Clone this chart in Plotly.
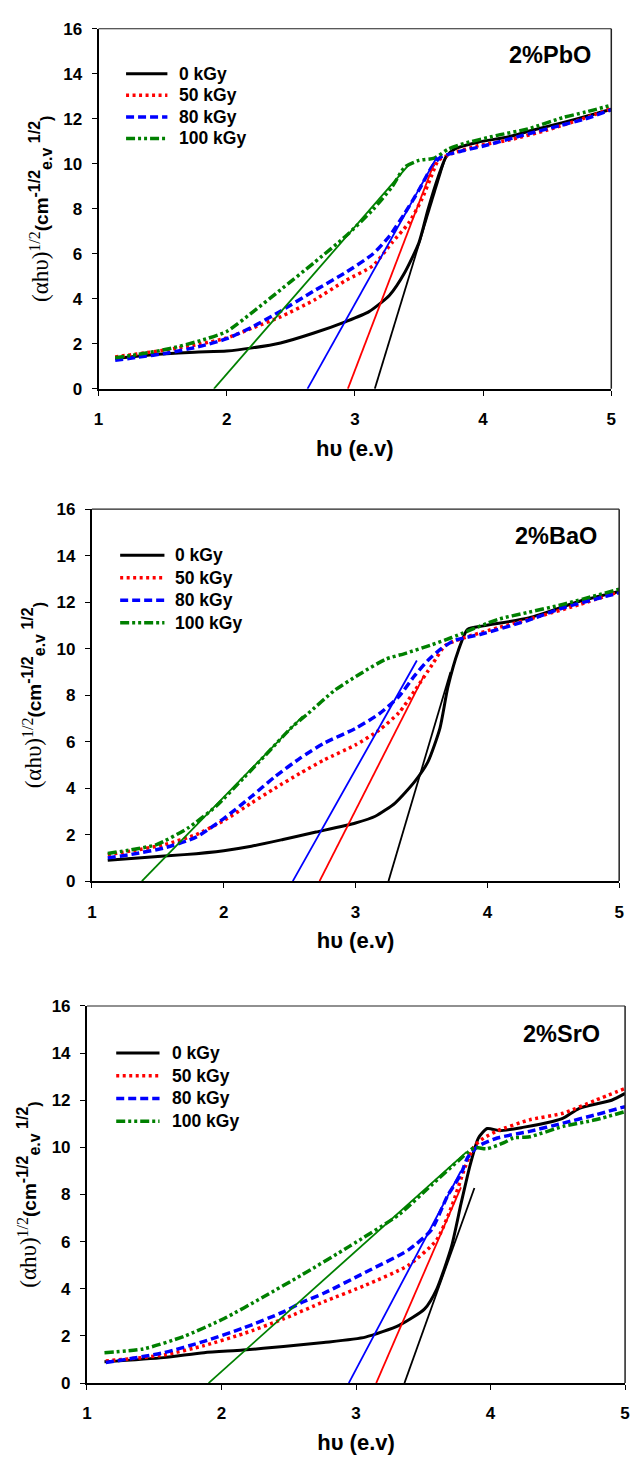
import plotly.graph_objects as go

W, H = 635, 1475

doses = ["0 kGy", "50 kGy", "80 kGy", "100 kGy"]
panel_labels = ["2%PbO", "2%BaO", "2%SrO"]
x_ticks = [1, 2, 3, 4, 5]
y_ticks = [0, 2, 4, 6, 8, 10, 12, 14, 16]

# ---------- 2% PbO ----------
pbo_0_x = [1.13, 1.3, 1.5, 1.75, 2.0, 2.2, 2.42, 2.68, 2.93, 3.11, 3.27, 3.39, 3.5, 3.57, 3.65, 3.71, 3.78, 3.96, 4.2, 4.37, 4.62, 4.8, 5.0]
pbo_0_y = [1.35, 1.45, 1.55, 1.63, 1.68, 1.82, 2.04, 2.48, 2.99, 3.43, 4.16, 5.18, 6.5, 7.96, 9.42, 10.3, 10.66, 10.96, 11.2, 11.47, 11.83, 12.1, 12.42]
pbo_50_x = [1.13, 1.3, 1.55, 1.8, 2.0, 2.2, 2.42, 2.68, 2.93, 3.14, 3.29, 3.42, 3.52, 3.6, 3.65, 3.75, 3.96, 4.2, 4.5, 4.75, 5.0]
pbo_50_y = [1.42, 1.55, 1.75, 2.0, 2.26, 2.7, 3.2, 3.94, 4.82, 5.47, 6.5, 7.37, 8.4, 9.5, 10.15, 10.44, 10.8, 11.05, 11.5, 11.95, 12.45]
pbo_80_x = [1.13, 1.3, 1.55, 1.8, 2.0, 2.2, 2.42, 2.68, 2.93, 3.14, 3.27, 3.39, 3.5, 3.6, 3.67, 3.85, 4.01, 4.3, 4.6, 4.8, 5.0]
pbo_80_y = [1.27, 1.4, 1.6, 1.9, 2.23, 2.75, 3.45, 4.35, 5.18, 5.99, 6.79, 7.81, 8.84, 9.86, 10.3, 10.59, 10.8, 11.25, 11.7, 12.0, 12.4]
pbo_100_x = [1.13, 1.3, 1.55, 1.8, 2.0, 2.2, 2.42, 2.68, 2.93, 3.14, 3.29, 3.39, 3.5, 3.62, 3.73, 3.85, 4.1, 4.35, 4.62, 4.8, 5.0]
pbo_100_y = [1.38, 1.52, 1.78, 2.15, 2.55, 3.4, 4.4, 5.6, 6.79, 7.96, 8.98, 9.86, 10.15, 10.25, 10.66, 10.9, 11.25, 11.55, 12.05, 12.3, 12.6]
pbo_fit_x = [[3.155, 3.71], [2.945, 3.62], [2.63, 3.64], [1.9, 3.42]]
pbo_fit_y = [[0, 10.35], [0, 10.05], [0, 10.3], [0, 9.95]]

# ---------- 2% BaO ----------
bao_0_x = [1.12, 1.4, 1.7, 2.0, 2.21, 2.45, 2.7, 3.0, 3.15, 3.3, 3.45, 3.55, 3.64, 3.7, 3.78, 3.85, 3.97, 4.32, 4.7, 5.0]
bao_0_y = [0.9, 1.02, 1.14, 1.31, 1.5, 1.79, 2.11, 2.5, 2.79, 3.36, 4.29, 5.14, 6.57, 8.33, 9.92, 10.83, 10.98, 11.33, 12.04, 12.46]
bao_50_x = [1.12, 1.3, 1.55, 1.79, 2.0, 2.21, 2.39, 2.58, 2.76, 3.0, 3.18, 3.33, 3.45, 3.58, 3.68, 3.83, 4.08, 4.4, 4.7, 5.0]
bao_50_y = [1.14, 1.3, 1.57, 2.0, 2.6, 3.36, 4.0, 4.64, 5.21, 5.86, 6.5, 7.25, 8.2, 9.3, 10.13, 10.48, 10.9, 11.4, 11.9, 12.45]
bao_80_x = [1.12, 1.3, 1.55, 1.79, 2.0, 2.21, 2.39, 2.58, 2.76, 3.0, 3.18, 3.33, 3.45, 3.55, 3.65, 3.75, 3.95, 4.3, 4.57, 5.0]
bao_80_y = [1.0, 1.15, 1.43, 1.89, 2.69, 3.64, 4.5, 5.29, 5.93, 6.57, 7.2, 7.95, 8.85, 9.5, 10.0, 10.35, 10.62, 11.2, 11.75, 12.4]
bao_100_x = [1.12, 1.3, 1.49, 1.73, 1.94, 2.15, 2.33, 2.52, 2.64, 2.84, 3.03, 3.23, 3.38, 3.58, 3.73, 4.08, 4.3, 4.57, 5.0]
bao_100_y = [1.19, 1.35, 1.57, 2.29, 3.21, 4.43, 5.5, 6.64, 7.21, 8.2, 8.9, 9.55, 9.8, 10.17, 10.48, 11.26, 11.55, 11.9, 12.56]
bao_fit_x = [[3.25, 3.72], [2.727, 3.52], [2.524, 3.465], [1.379, 2.6]]
bao_fit_y = [[0, 9.0], [0, 8.85], [0, 9.49], [0, 7.1]]

# ---------- 2% SrO ----------
sro_0_x = [1.13, 1.57, 1.87, 2.16, 2.46, 2.76, 3.07, 3.32, 3.51, 3.6, 3.71, 3.78, 3.85, 3.91, 3.975, 4.07, 4.24, 4.46, 4.54, 4.66, 4.9, 5.0]
sro_0_y = [0.9, 1.08, 1.29, 1.4, 1.55, 1.72, 1.95, 2.45, 3.15, 3.99, 5.8, 7.6, 9.29, 10.4, 10.8, 10.71, 10.85, 11.1, 11.24, 11.66, 12.0, 12.29]
sro_50_x = [1.14, 1.57, 1.87, 2.16, 2.46, 2.76, 3.07, 3.39, 3.6, 3.71, 3.81, 3.88, 3.95, 4.05, 4.29, 4.54, 4.78, 5.0]
sro_50_y = [0.94, 1.19, 1.59, 2.09, 2.72, 3.45, 4.15, 5.0, 6.08, 7.48, 9.15, 10.06, 10.4, 10.7, 11.17, 11.45, 12.0, 12.5]
sro_80_x = [1.14, 1.57, 1.87, 2.16, 2.46, 2.6, 2.76, 3.07, 3.39, 3.56, 3.68, 3.78, 3.83, 3.91, 4.05, 4.29, 4.54, 4.78, 5.0]
sro_80_y = [0.87, 1.29, 1.77, 2.33, 3.02, 3.43, 3.81, 4.7, 5.65, 6.5, 7.94, 8.87, 9.57, 10.06, 10.4, 10.68, 11.03, 11.38, 11.73]
sro_100_x = [1.13, 1.42, 1.72, 2.02, 2.31, 2.6, 2.95, 3.32, 3.56, 3.76, 3.88, 3.97, 4.1, 4.17, 4.29, 4.54, 4.78, 5.0]
sro_100_y = [1.29, 1.45, 1.98, 2.74, 3.65, 4.6, 5.8, 7.15, 8.4, 9.43, 9.99, 9.94, 10.2, 10.4, 10.45, 10.89, 11.17, 11.52]
sro_fit_x = [[3.36, 3.88], [3.15, 3.78], [2.946, 3.78], [1.904, 3.82]]
sro_fit_y = [[0, 8.28], [0, 8.3], [0, 9.0], [0, 9.8]]

panels = [
    dict(curves=[(pbo_0_x, pbo_0_y), (pbo_50_x, pbo_50_y), (pbo_80_x, pbo_80_y), (pbo_100_x, pbo_100_y)],
         fits=(pbo_fit_x, pbo_fit_y)),
    dict(curves=[(bao_0_x, bao_0_y), (bao_50_x, bao_50_y), (bao_80_x, bao_80_y), (bao_100_x, bao_100_y)],
         fits=(bao_fit_x, bao_fit_y)),
    dict(curves=[(sro_0_x, sro_0_y), (sro_50_x, sro_50_y), (sro_80_x, sro_80_y), (sro_100_x, sro_100_y)],
         fits=(sro_fit_x, sro_fit_y)),
]

# ---------- styling / layout (pixel geometry) ----------
colors = ["#000000", "#ff0000", "#0000ff", "#008000"]
dashes = ["solid", "3px,3.5px", "8px,4px", "9px,3px,3px,3px,3px,3px"]
widths = [3, 3.5, 3.5, 3.5]

# plot boxes in pixels: (left, right, top, bottom)
boxes = [(95, 616, 20, 384.8), (88.3, 624, 506.7, 883.5), (83.3, 630, 1010, 1392)]
legend_geo = [  # sample x0, x1, text x, first row y, row step
    (123, 165, 175, 65.7, 21.8),
    (117, 162, 171, 553.3, 22.8),
    (113, 157, 168, 1057.7, 23.0),
]
label_geo = [(597, 46.7), (604, 534), (607, 1038)]

FONT = "Liberation Sans, Arial, sans-serif"
SERIF = "Liberation Serif, Times New Roman, serif"
ytitle = (f"<span style='font-family:{SERIF};font-weight:normal;font-size:23px'>(αhυ)</span>"
          f"<sup><span style='font-family:{SERIF};font-weight:normal;font-size:16px'>1/2</span></sup>"
          "(cm<sup><span style='font-size:16px'>-1/2</span></sup>"
          "<sub><span style='font-size:16px'>e.v</span></sub>"
          "<sup><span style='font-size:16px'> 1/2</span></sup>"
          "<sub><span style='font-size:16px'>)</span></sub>")

def px(x):
    return x / W

def py(y):
    return 1 - y / H

fig = go.Figure()
shapes = []
annotations = []
layout_axes = {}

for i, p in enumerate(panels):
    n = "" if i == 0 else str(i + 1)
    xa, ya = "x" + n, "y" + n
    # data curves
    for k, (cx, cy) in enumerate(p["curves"]):
        fig.add_trace(go.Scatter(
            x=cx, y=cy, mode="lines", name=doses[k], showlegend=False,
            line=dict(color=colors[k], width=widths[k], dash=dashes[k], shape="spline", smoothing=0.6),
            xaxis=xa, yaxis=ya))
    # linear fits
    fx, fy = p["fits"]
    for k in range(4):
        fig.add_trace(go.Scatter(
            x=fx[k], y=fy[k], mode="lines", showlegend=False,
            line=dict(color=colors[k], width=1.8), xaxis=xa, yaxis=ya))

    l, r, t, b = boxes[i]
    common = dict(showgrid=False, zeroline=False, showline=True, linecolor="black", linewidth=2,
                  ticks="outside", ticklen=5, tickwidth=1.2, tickcolor="black",
                  tickfont=dict(family=FONT, size=17, color="black", weight="bold"))
    layout_axes["xaxis" + n] = dict(
        domain=[px(l), px(r)], anchor=ya, range=[1, 5], tickvals=x_ticks,
        ticklabelstandoff=9,
        title=dict(text="hυ (e.v)", font=dict(family=FONT, size=22, color="black", weight="bold"), standoff=12),
        **common)
    layout_axes["yaxis" + n] = dict(
        domain=[py(b), py(t)], anchor=xa, range=[0, 16], tickvals=y_ticks,
        ticklabelstandoff=6,
        title=dict(text=ytitle, font=dict(family=FONT, size=19, color="black", weight="bold"), standoff=10),
        **common)
    # thin top and right frame lines
    shapes.append(dict(type="line", xref=xa + " domain", yref=ya + " domain", x0=0, x1=1, y0=1, y1=1,
                       line=dict(color="#222222", width=1.2)))
    shapes.append(dict(type="line", xref=xa + " domain", yref=ya + " domain", x0=1, x1=1, y0=0, y1=1,
                       line=dict(color="#222222", width=1.5)))

    # legend drawn inside the box
    sx0, sx1, tx, ry, step = legend_geo[i]
    for k in range(4):
        yy = ry + k * step
        shapes.append(dict(type="line", xref="paper", yref="paper", x0=px(sx0), x1=px(sx1), y0=py(yy), y1=py(yy),
                           line=dict(color=colors[k], width=widths[k], dash=dashes[k])))
        annotations.append(dict(xref="paper", yref="paper", x=px(tx), y=py(yy), xanchor="left", yanchor="middle",
                                text=doses[k], showarrow=False,
                                font=dict(family=FONT, size=17.5, color="black", weight="bold")))
    lx, ly = label_geo[i]
    annotations.append(dict(xref="paper", yref="paper", x=px(lx), y=py(ly), xanchor="right", yanchor="middle",
                            text=panel_labels[i], showarrow=False,
                            font=dict(family=FONT, size=23.5, color="black", weight="bold")))

fig.update_layout(
    width=W, height=H, margin=dict(l=0, r=0, t=0, b=0),
    paper_bgcolor="white", plot_bgcolor="white", showlegend=False,
    shapes=shapes, annotations=annotations, **layout_axes)

fig.write_html("out.html")
